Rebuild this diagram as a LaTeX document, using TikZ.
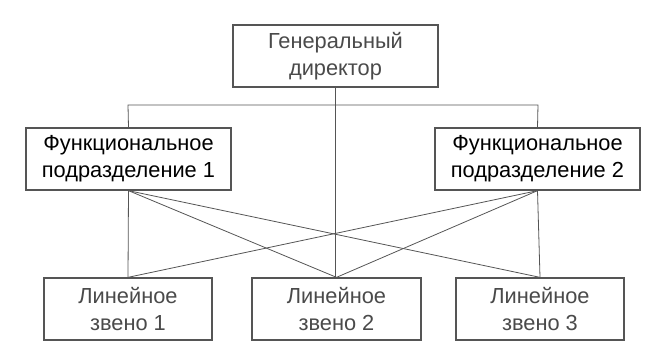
\documentclass[tikz,border=0pt]{standalone}
\usepackage{fontspec}
\setmainfont{Liberation Sans}
\definecolor{lc}{HTML}{555555}
\definecolor{tg}{HTML}{4A4A4A}
\begin{document}
\begin{tikzpicture}[x=1pt,y=-1pt,
  box/.style={draw=lc,line width=1.3pt,fill=white,inner sep=0pt,font=\fontsize{21.8}{27}\selectfont,align=center},
  conn/.style={draw=lc,line width=0.8pt}]
\useasboundingbox (0,0) rectangle (667,352);
\node[box,text=tg,minimum width=205,minimum height=62] (gd) at (335.5,56) {Генеральный\\директор};
\node[box,text=black,minimum width=205,minimum height=62] (f1) at (128.5,159) {Функциональное\\подразделение 1};
\node[box,text=black,minimum width=205,minimum height=62] (f2) at (537.5,159) {Функциональное\\подразделение 2};
\node[box,text=tg,minimum width=168,minimum height=62] (l1) at (128,309) {Линейное\\звено 1};
\node[box,text=tg,minimum width=169,minimum height=62] (l2) at (336.5,309) {Линейное\\звено 2};
\node[box,text=tg,minimum width=168,minimum height=62] (l3) at (540,309) {Линейное\\звено 3};
\coordinate (hl) at (128,105);
\coordinate (hr) at (538,105);
\draw[conn] (gd.south) -- (gd.south |- l2.north);
\draw[conn] (f1.north) -- (hl) -- (hr) -- (f2.north);
\draw[conn] (f1.south) -- (l1.north);
\draw[conn] (f2.south) -- (l3.north);
\draw[conn] (f1.south) -- (l2.north);
\draw[conn] (f1.south) -- (l3.north);
\draw[conn] (f2.south) -- (l1.north);
\draw[conn] (f2.south) -- (l2.north);
\end{tikzpicture}
\end{document}
